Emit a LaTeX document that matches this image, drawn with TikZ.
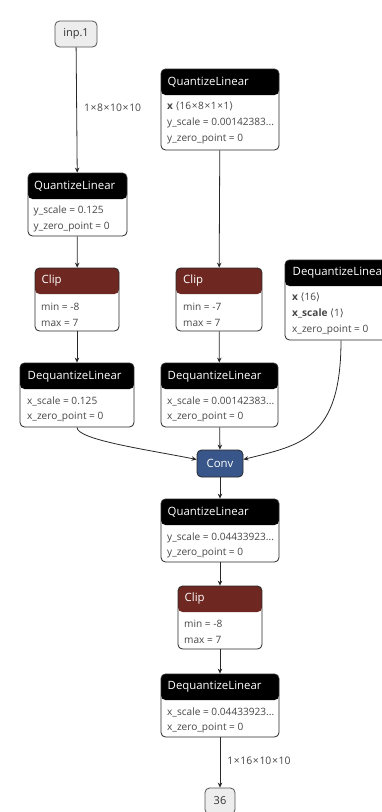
\documentclass[tikz,border=0pt]{standalone}
\usepackage{fontspec}
\setmainfont{Open Sans}
\newfontfamily\symf{DejaVu Sans}
\usetikzlibrary{arrows.meta}
\definecolor{clipred}{RGB}{110,40,33}
\definecolor{convblue}{RGB}{56,86,138}
\definecolor{attrgray}{RGB}{70,70,70}
\definecolor{edgegray}{RGB}{40,40,40}
\newcommand\tms{\kern0.6pt×\kern0.6pt}
\tikzset{
  opbox/.style={draw=edgegray, line width=0.8pt, rounded corners=4.5pt, inner sep=0pt, fill=white,
    path picture={\fill[#1] (path picture bounding box.north west) rectangle ([yshift=-26pt]path picture bounding box.north east);}},
  ttl/.style={anchor=west, text=white, font=\fontsize{11.4}{13}\selectfont, inner sep=0pt},
  attr/.style={anchor=west, text=attrgray, font=\fontsize{10.1}{12}\selectfont, inner sep=0pt},
  iobox/.style={draw=edgegray!80, line width=0.8pt, rounded corners=4.5pt, fill=black!7, inner sep=0pt, text=black!80, font=\fontsize{11}{13}\selectfont},
  convbox/.style={draw=edgegray, line width=0.8pt, rounded corners=4.5pt, fill=convblue, inner sep=0pt, text=white, font=\fontsize{11.4}{13}\selectfont},
  arr/.style={-{Stealth[length=5pt,width=4.5pt]}, line width=0.8pt, draw=edgegray},
  elabel/.style={anchor=west, text=attrgray, font=\fontsize{10.4}{12}\selectfont, inner sep=0pt}
}
\begin{document}
\begin{tikzpicture}[x=1pt,y=-1pt]
\clip (0,0) rectangle (382,812);
\useasboundingbox (0,0) rectangle (382,812);

% input
\node[iobox, minimum width=42pt, minimum height=26pt] (inp) at (76,34) {inp.1};

% QuantizeLinear 1
\node[opbox=black, minimum width=99pt, minimum height=63pt] (q1) at (77.5,204.5) {};
\node[ttl] (q1t) at (34,186) {QuantizeLinear};
\node[attr] (q1a) at (33.5,211) {y\_scale = 0.125};
\node[attr] (q1b) at (33.5,227) {y\_zero\_point = 0};

% QuantizeLinear weights
\node[opbox=black, minimum width=118pt, minimum height=81pt] (q2) at (220,109.5) {};
\node[ttl] (q2t) at (167.5,82) {QuantizeLinear};
\node[attr] (q2a) at (167,106) {\textbf{x} {\symf⟨}16\tms8\tms1\tms1{\symf⟩}};
\node[attr] (q2b) at (167,122.5) {y\_scale = 0.00142383...};
\node[attr] (q2c) at (167,139) {y\_zero\_point = 0};

% Clip 1
\node[opbox=clipred, minimum width=84pt, minimum height=63pt] (c1) at (77,299.5) {};
\node[ttl] (c1t) at (41.5,281) {Clip};
\node[attr] (c1a) at (41,307) {min = -8};
\node[attr] (c1b) at (41,323) {max = 7};

% Clip 2
\node[opbox=clipred, minimum width=86pt, minimum height=63pt] (c2) at (219,299.5) {};
\node[ttl] (c2t) at (183,281) {Clip};
\node[attr] (c2a) at (183,307) {min = -7};
\node[attr] (c2b) at (183,323) {max = 7};

% Dequantize bias (right, cut off)
\node[opbox=black, minimum width=114pt, minimum height=80pt] (dr) at (342,300) {};
\node[ttl] (drt) at (292.5,273) {DequantizeLinear};
\node[attr] (dra) at (292,297) {\textbf{x} {\symf⟨}16{\symf⟩}};
\node[attr] (drb) at (292,313) {\textbf{x\_scale} {\symf⟨}1{\symf⟩}};
\node[attr] (drc) at (292,330) {x\_zero\_point = 0};

% Dequantize 1
\node[opbox=black, minimum width=114pt, minimum height=64pt] (d1) at (77,395) {};
\node[ttl] (d1t) at (27.5,377) {DequantizeLinear};
\node[attr] (d1a) at (27,401) {x\_scale = 0.125};
\node[attr] (d1b) at (27,417) {x\_zero\_point = 0};

% Dequantize 2
\node[opbox=black, minimum width=117pt, minimum height=64pt] (d2) at (219.5,395) {};
\node[ttl] (d2t) at (167.5,377) {DequantizeLinear};
\node[attr] (d2a) at (167,401) {x\_scale = 0.00142383...};
\node[attr] (d2b) at (167,417) {x\_zero\_point = 0};

% Conv
\node[convbox, minimum width=46pt, minimum height=27pt] (conv) at (220,463.5) {Conv};

% QuantizeLinear 3
\node[opbox=black, minimum width=118pt, minimum height=63pt] (q3) at (220,530.5) {};
\node[ttl] (q3t) at (167.5,512) {QuantizeLinear};
\node[attr] (q3a) at (167,538) {y\_scale = 0.04433923...};
\node[attr] (q3b) at (167,553) {y\_zero\_point = 0};

% Clip 3
\node[opbox=clipred, minimum width=84pt, minimum height=63pt] (c3) at (220,617.5) {};
\node[ttl] (c3t) at (184.5,599) {Clip};
\node[attr] (c3a) at (184,624) {min = -8};
\node[attr] (c3b) at (184,640) {max = 7};

% Dequantize 3
\node[opbox=black, minimum width=118pt, minimum height=63pt] (d3) at (220,705.5) {};
\node[ttl] (d3t) at (167.5,687) {DequantizeLinear};
\node[attr] (d3a) at (167,712) {x\_scale = 0.04433923...};
\node[attr] (d3b) at (167,728) {x\_zero\_point = 0};

% output
\node[iobox, minimum width=30pt, minimum height=26pt] (out) at (220,801) {36};

% edges
\draw[arr] (inp) -- node[elabel, pos=0.485, xshift=7pt] {1\tms8\tms10\tms10} (q1);
\draw[arr] (q1) -- (c1);
\draw[arr] (c1) -- (d1);
\draw[arr] (q2) -- (c2);
\draw[arr] (c2) -- (d2);
\draw[arr] (d2) -- (conv);
\draw[arr] (d1.south) .. controls (77,440) and (150,450) .. ([yshift=4pt]conv.west);
\draw[arr] (dr.south -| 341,0) .. controls (341,440) and (300,445) .. ([yshift=4pt]conv.east);
\draw[arr] (conv) -- (q3);
\draw[arr] (q3) -- (c3);
\draw[arr] (c3) -- (d3);
\draw[arr] (d3) -- node[elabel, pos=0.47, xshift=7pt] {1\tms16\tms10\tms10} (out);
\end{tikzpicture}
\end{document}
